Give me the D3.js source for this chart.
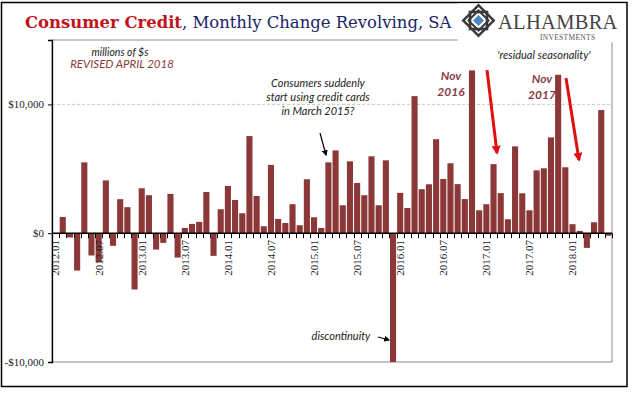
<!DOCTYPE html>
<html>
<head>
<meta charset="utf-8">
<script src="https://cdn.jsdelivr.net/npm/d3@7"></script>
<style>
  body { margin: 0; background: #fff; }
  svg { display: block; }
</style>
</head>
<body>
<div id="chart"></div>
<script>
// monthly change in revolving consumer credit, millions of $, 2012.01 - 2018.06
const years = ['2012', '2013', '2014', '2015', '2016', '2017', '2018'];
const values2012 = [0, 1260, -330, -2900, 5500, -1730, -2250, 4100, -980, 2640, 2020, -4370];
const values2013 = [3490, 2950, -1270, -750, 3050, -1890, 410, 720, 880, 3200, -1760, 1860];
const values2014 = [3670, 2580, 1550, 7540, 2890, 540, 5300, 1110, 790, 2250, 620, 4190];
const values2015 = [1240, 410, 5500, 6430, 2170, 5580, 3900, 2950, 5970, 2170, 5660, -10000];
const values2016 = [3130, 1960, 10640, 3420, 3800, 7300, 4210, 5430, 3810, 2650, 12640, 1780];
const values2017 = [2250, 5360, 3110, 1085, 6740, 3100, 1780, 4880, 5040, 7440, 12300, 5120];
const values2018 = [700, 180, -1140, 850, 9560, -200];
const yTicks = [-10000, 0, 10000];

const allValues = [values2012, values2013, values2014, values2015, values2016, values2017, values2018];
const data = [];
allValues.forEach((vals, yi) => {
  vals.forEach((v, mi) => {
    data.push({ month: years[yi] + '.' + String(mi + 1).padStart(2, '0'), value: v });
  });
});

const width = 644;
const height = 394;
const plot = { left: 52, right: 612, top: 40, bottom: 362 };

const svg = d3.select('#chart')
  .append('svg')
  .attr('width', width)
  .attr('height', height);

const x = d3.scaleBand()
  .domain(data.map(d => d.month))
  .range([plot.left, plot.right])
  .paddingInner(0.15)
  .paddingOuter(0.075);

const y = d3.scaleLinear()
  .domain([-10000, 15000])
  .range([plot.bottom, plot.top]);

const step = x.step();

// outer frame
svg.append('rect')
  .attr('x', 1.5).attr('y', 2.5)
  .attr('width', 625.5).attr('height', 384)
  .attr('fill', '#fff')
  .attr('stroke', '#000')
  .attr('stroke-width', 1.5);

// plot area frame
svg.append('rect')
  .attr('x', plot.left).attr('y', plot.top)
  .attr('width', plot.right - plot.left).attr('height', plot.bottom - plot.top)
  .attr('fill', 'none')
  .attr('stroke', '#8a8a8a')
  .attr('stroke-width', 1);

// gridline at +10,000
svg.append('line')
  .attr('x1', plot.left).attr('x2', plot.right)
  .attr('y1', y(10000)).attr('y2', y(10000))
  .attr('stroke', '#c8c8c8')
  .attr('stroke-dasharray', '3,2');

// bars
svg.selectAll('rect.bar')
  .data(data)
  .enter()
  .append('rect')
  .attr('class', 'bar')
  .attr('x', d => x(d.month))
  .attr('width', x.bandwidth())
  .attr('y', d => y(Math.max(0, d.value)))
  .attr('height', d => Math.abs(y(d.value) - y(0)))
  .attr('fill', '#8c3839');

// y axis
const yAxis = d3.axisLeft(y)
  .tickValues(yTicks)
  .tickSize(4)
  .tickFormat(d => (d < 0 ? '-$' : '$') + d3.format(',')(Math.abs(d)));

const yG = svg.append('g')
  .attr('transform', `translate(${plot.left},0)`)
  .call(yAxis);
yG.select('.domain').attr('stroke', '#000').attr('stroke-width', 1.3);
yG.selectAll('.tick line').attr('stroke', '#000');
yG.selectAll('.tick text')
  .attr('x', -8)
  .style('font-family', '"Liberation Serif", serif')
  .style('font-size', '11px')
  .attr('fill', '#222');

// zero line with month ticks
svg.append('line')
  .attr('x1', plot.left).attr('x2', plot.right)
  .attr('y1', y(0)).attr('y2', y(0))
  .attr('stroke', '#000')
  .attr('stroke-width', 1.5);

svg.selectAll('line.mtick')
  .data(d3.range(data.length + 1))
  .enter()
  .append('line')
  .attr('class', 'mtick')
  .attr('x1', i => Math.round(plot.left + i * step) + 0.5)
  .attr('x2', i => Math.round(plot.left + i * step) + 0.5)
  .attr('y1', y(0))
  .attr('y2', y(0) + 5)
  .attr('stroke', '#000')
  .attr('stroke-width', 1);

// x labels every 6 months, rotated
svg.selectAll('text.xlab')
  .data(data.filter((d, i) => i % 6 === 0))
  .enter()
  .append('text')
  .attr('class', 'xlab')
  .attr('transform', d => `translate(${x(d.month) + x.bandwidth() / 2},240) rotate(-90)`)
  .attr('text-anchor', 'end')
  .attr('dy', '0.35em')
  .style('font-family', '"Liberation Serif", serif')
  .style('font-size', '11px')
  .attr('fill', '#222')
  .text(d => d.month);

// white box behind the logo
svg.append('rect')
  .attr('x', 458).attr('y', 3.5)
  .attr('width', 168).attr('height', 39)
  .attr('fill', '#fff');

// title
const title = svg.append('text')
  .attr('x', 25).attr('y', 28)
  .style('font-family', '"DejaVu Serif", serif')
  .style('font-size', '20px');
title.append('tspan')
  .attr('fill', '#c0141b')
  .style('font-weight', 'bold')
  .text('Consumer Credit');
title.append('tspan')
  .attr('fill', '#1b2466')
  .text(', Monthly Change Revolving, SA');
const titleWidth = title.node().getComputedTextLength();
title.style('font-size', (20 * 427 / titleWidth) + 'px');

// logo
const logo = svg.append('g').attr('transform', 'translate(478.5,20.5)');
logo.append('path')
  .attr('d', 'M0,-17 L17,0 L0,17 L-17,0 Z')
  .attr('fill', '#3a3a3a');
logo.append('path')
  .attr('d', 'M0,-13.5 L13.5,0 L0,13.5 L-13.5,0 Z')
  .attr('fill', '#fff');
logo.append('rect')
  .attr('x', -8.5).attr('y', -8.5).attr('width', 17).attr('height', 17)
  .attr('fill', 'none').attr('stroke', '#3a3a3a').attr('stroke-width', 2.6);
logo.append('path')
  .attr('d', 'M0,-10 L10,0 L0,10 L-10,0 Z')
  .attr('fill', 'none').attr('stroke', '#3a3a3a').attr('stroke-width', 2);
logo.append('path')
  .attr('d', 'M0,-5.5 L5.5,0 L0,5.5 L-5.5,0 Z')
  .attr('fill', '#4f86c0');
svg.append('text')
  .attr('x', 498).attr('y', 29)
  .style('font-family', '"Liberation Serif", serif')
  .style('font-size', '20.5px')
  .style('letter-spacing', '0.3px')
  .attr('fill', '#444')
  .text('ALHAMBRA');
svg.append('text')
  .attr('x', 540).attr('y', 40)
  .style('font-family', '"Liberation Serif", serif')
  .style('font-size', '7.5px')
  .style('letter-spacing', '0.3px')
  .attr('fill', '#555')
  .text('INVESTMENTS');

// annotations
function note(tx, ty, str, opts = {}) {
  return svg.append('text')
    .attr('x', tx).attr('y', ty)
    .attr('text-anchor', opts.anchor || 'middle')
    .style('font-family', 'Lato, sans-serif')
    .style('font-style', 'italic')
    .style('font-weight', opts.weight || 'normal')
    .style('font-size', (opts.size || 11) + 'px')
    .attr('fill', opts.color || '#222')
    .text(str);
}

note(120, 56, 'millions of $s', { size: 10.5 });
note(122, 68, 'REVISED APRIL 2018', { size: 11.5, color: '#8b3a3a' });
note(318, 87, 'Consumers suddenly', { size: 11 });
note(318, 101, 'start using credit cards', { size: 11 });
note(318, 115, 'in March 2015?', { size: 11 });
note(544, 59, '\'residual seasonality\'', { size: 11 });
note(451, 80, 'Nov', { size: 12, weight: 'bold', color: '#8b3a45' });
note(451, 96, '2016', { size: 12, weight: 'bold', color: '#8b3a45' });
note(542, 83, 'Nov', { size: 12, weight: 'bold', color: '#8b3a45' });
note(542, 99, '2017', { size: 12, weight: 'bold', color: '#8b3a45' });
note(341, 340, 'discontinuity', { size: 11 });

// arrows
const defs = svg.append('defs');
function marker(id, color, size) {
  defs.append('marker')
    .attr('id', id)
    .attr('viewBox', '0 0 10 10')
    .attr('refX', 8).attr('refY', 5)
    .attr('markerWidth', size).attr('markerHeight', size)
    .attr('orient', 'auto')
    .append('path')
    .attr('d', 'M0,0 L10,5 L0,10 Z')
    .attr('fill', color);
}
marker('head-black', '#000', 5);
marker('head-red', '#e01010', 3);

function arrow(x1, y1, x2, y2, color, sw, id) {
  svg.append('line')
    .attr('x1', x1).attr('y1', y1)
    .attr('x2', x2).attr('y2', y2)
    .attr('stroke', color)
    .attr('stroke-width', sw)
    .attr('marker-end', `url(#${id})`);
}
arrow(320, 133, 326, 155, '#000', 1.2, 'head-black');
arrow(378, 337, 389, 340, '#000', 1.2, 'head-black');
arrow(487, 70, 497, 153, '#e01010', 3, 'head-red');
arrow(566, 78, 579, 160, '#e01010', 3, 'head-red');
</script>
</body>
</html>
